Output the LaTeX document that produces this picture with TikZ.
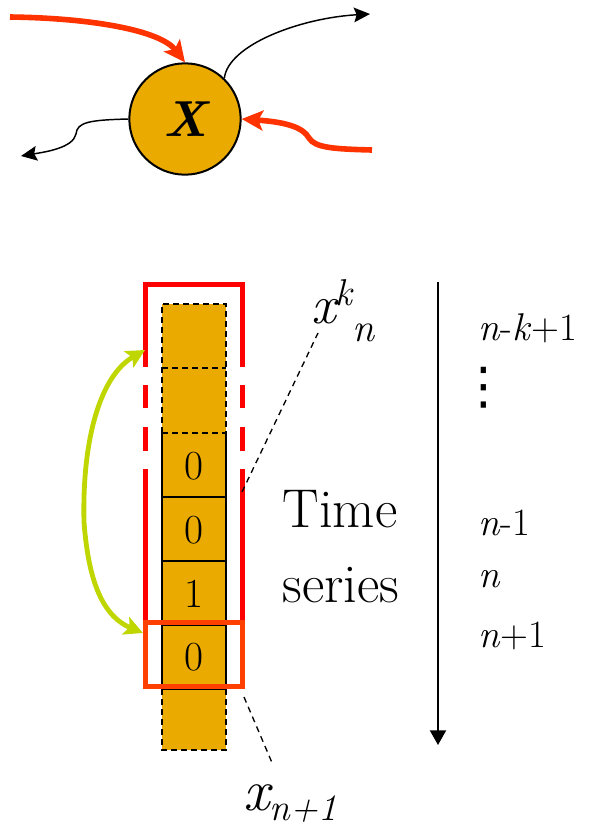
\documentclass[tikz,border=0pt]{standalone}
\usepackage{fontspec}
\newfontfamily\dejavu{DejaVu Sans}
\usetikzlibrary{arrows.meta}
\definecolor{gold}{HTML}{EAAA00}
\definecolor{brightred}{HTML}{FF0000}
\definecolor{boxred}{HTML}{FF4000}
\definecolor{arrowred}{HTML}{FF3300}
\definecolor{lime}{HTML}{BFD600}
\tikzset{
  redarrow/.style={draw=arrowred, line width=4.2pt, -{Stealth[length=16pt,width=15pt,inset=3.5pt]}},
  blkarrow/.style={draw=black, line width=1.1pt, -{Stealth[length=12pt,width=11pt,inset=2pt]}},
  greenarrow/.style={draw=lime, line width=3.6pt, {Stealth[length=14pt,width=14pt,inset=3pt]}-{Stealth[length=14pt,width=14pt,inset=3pt]}},
  bracketline/.style={draw=brightred, line width=3.75pt},
  cellline/.style={draw=black, line width=1.1pt},
  celldash/.style={draw=black, line width=1.1pt, dash pattern=on 4.5pt off 3pt},
  leader/.style={draw=black, line width=1pt, dash pattern=on 4.5pt off 3.5pt},
  digit/.style={font=\fontsize{31}{31}\selectfont, inner sep=0pt},
  rlabel/.style={font=\fontsize{29}{29}\selectfont, anchor=base west, inner sep=0pt},
  bigtext/.style={font=\fontsize{41}{41}\selectfont, anchor=base, inner sep=0pt},
}
\begin{document}
\begin{tikzpicture}[x=0.75pt,y=-0.75pt]
\useasboundingbox (0,0) rectangle (589,826);

% ---------- top: node X ----------
\node[circle, draw=black, fill=gold, line width=1.5pt, minimum size=83.5pt, inner sep=0pt,
      font=\fontsize{38}{38}\selectfont\bfseries\itshape] (X) at (185,119) {X};

\coordinate (r1s) at (10,17);
\coordinate (r2s) at (372,150);
\coordinate (b1e) at (370,14);
\coordinate (b2e) at (21,156);

\draw[redarrow] (r1s) .. controls (90,18) and (160,30) .. (X.north);
\draw[redarrow] (r2s) .. controls (335,149) and (315,148) .. (309,138)
                     .. controls (303,127) and (285,122) .. (X.east);
\draw[blkarrow] (X.46) .. controls (228,45) and (300,18) .. (b1e);
\draw[blkarrow] (X.west) .. controls (90,120) and (77,122) .. (76,134)
                     .. controls (73,148) and (45,152) .. (b2e);

% ---------- time series column ----------
\fill[gold] (162,304) rectangle (226,750);

\node[digit] (d3) at (194,466) {0};
\node[digit] (d4) at (194,530) {0};
\node[digit] (d5) at (194,594) {1};
\node[digit] (d6) at (194,657) {0};

% solid borders
\draw[cellline] (162,433) -- (162,689);
\draw[cellline] (226,433) -- (226,689);
\draw[cellline] (162,497) -- (226,497);
\draw[cellline] (162,561) -- (226,561);
\draw[cellline] (162,625) -- (226,625);
\draw[cellline] (162,689) -- (226,689);
% dashed borders
\draw[celldash] (162,433) -- (162,304) -- (226,304) -- (226,433) -- cycle;
\draw[celldash] (162,368) -- (226,368);
\draw[celldash] (162,689) -- (162,750) -- (226,750) -- (226,689);

% red bracket (window x^k_n)
\draw[bracketline] (145,367) -- (145,284) -- (242,284) -- (242,367);
\draw[bracketline] (145,385) -- (145,408);
\draw[bracketline] (145,427) -- (145,451);
\draw[bracketline] (242,385) -- (242,408);
\draw[bracketline] (242,427) -- (242,451);
\draw[bracketline] (145,469) -- (145,622);
\draw[bracketline] (242,469) -- (242,622);
% orange box (x_{n+1})
\draw[draw=boxred, line width=3.75pt] (145,622) rectangle (242,686);

% green double arrow
\coordinate (g1) at (145,350);
\coordinate (gk) at (84,522);
\coordinate (g2) at (143,633);
\draw[greenarrow] (g1) .. controls (100,376) and (82,440) .. (gk)
                       .. controls (88,575) and (100,615) .. (g2);

% labels x^k_n and x_{n+1}
\node[anchor=base west, inner sep=0pt] (xkn) at (311,323)
  {\fontsize{41}{41}\selectfont\itshape x\raisebox{13.5pt}{\fontsize{28}{28}\selectfont k}\raisebox{-13.5pt}{\fontsize{30}{30}\selectfont n}};
\node[anchor=base west, inner sep=0pt] (xn1) at (243,810)
  {\fontsize{44}{44}\selectfont\itshape x\raisebox{-8pt}{\fontsize{28}{28}\selectfont n+1}};

\coordinate (k1) at (242,492);
\coordinate (k2) at (318,333);
\coordinate (m1) at (244,697);
\coordinate (m2) at (273,765);
\draw[leader] (k1) -- (k2);
\draw[leader] (m1) -- (m2);

% Time series
\node[bigtext] (time) at (340,527) {Time};
\node[bigtext] (series) at (341,602) {series};

% time axis
\coordinate (vt) at (438,282);
\coordinate (vb) at (438,745);
\draw[line width=1.5pt, -{Triangle[length=11pt,width=12pt]}] (vt) -- (vb);

% right labels
\node[rlabel] (lnk) at (478,340) {\textit{n}-\textit{k}+1};
\node[font=\fontsize{38}{38}\selectfont\dejavu, inner sep=0pt] (vd) at (484,388) {⋮};
\node[rlabel] (ln1) at (478,535) {\textit{n}-1};
\node[rlabel] (ln) at (478,587) {\textit{n}};
\node[rlabel] (lnp) at (478,647) {\textit{n}+1};
\end{tikzpicture}
\end{document}
